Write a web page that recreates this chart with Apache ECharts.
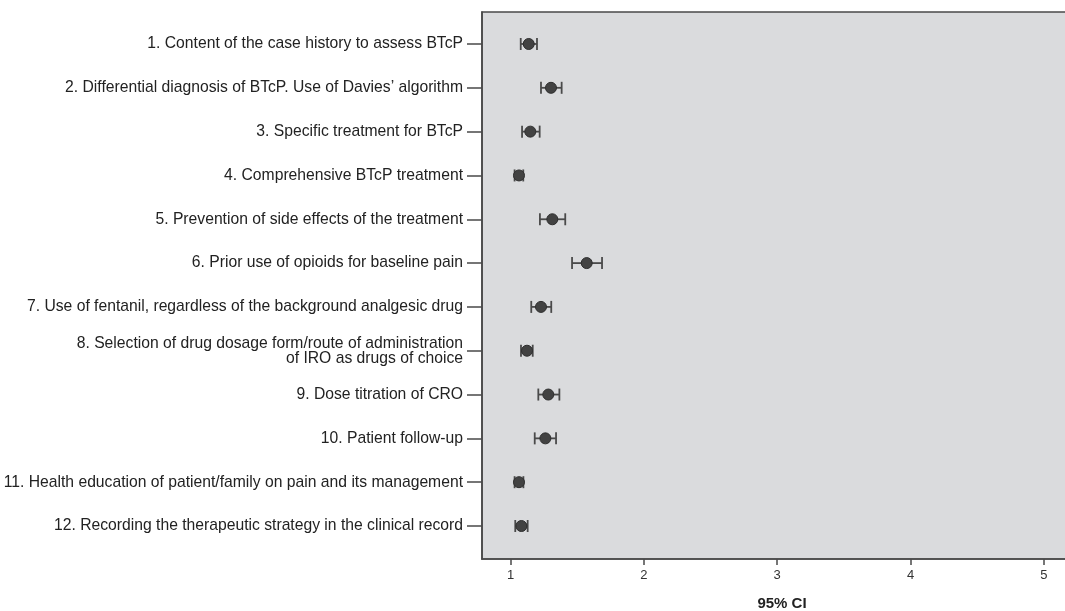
<!DOCTYPE html>
<html>
<head>
<meta charset="utf-8">
<script src="https://cdn.jsdelivr.net/npm/echarts@6/dist/echarts.min.js"></script>
<style>
  html, body { margin: 0; padding: 0; background: #ffffff; }
  #chart { width: 1065px; height: 611px; }
</style>
</head>
<body>
<div id="chart"></div>
<script>
// Quality indicators (rows, top to bottom)
const items = [
  '1. Content of the case history to assess BTcP',
  '2. Differential diagnosis of BTcP. Use of Davies\u2019 algorithm',
  '3. Specific treatment for BTcP',
  '4. Comprehensive BTcP treatment',
  '5. Prevention of side effects of the treatment',
  '6. Prior use of opioids for baseline pain',
  '7. Use of fentanil, regardless of the background analgesic drug',
  '8. Selection of drug dosage form/route of administration\nof IRO as drugs of choice',
  '9. Dose titration of CRO',
  '10. Patient follow-up',
  '11. Health education of patient/family on pain and its management',
  '12. Recording the therapeutic strategy in the clinical record'
];

// Mean score and 95% confidence interval per indicator
const means = [1.136, 1.303, 1.148, 1.063, 1.313, 1.571, 1.228, 1.123, 1.283, 1.261, 1.063, 1.081];
const lower = [1.076, 1.228, 1.086, 1.030, 1.220, 1.461, 1.155, 1.078, 1.208, 1.181, 1.030, 1.035];
const upper = [1.198, 1.383, 1.218, 1.095, 1.410, 1.686, 1.305, 1.166, 1.366, 1.341, 1.096, 1.128];

// X axis tick values
const xTicks = [1, 2, 3, 4, 5];

const rowPos = items.map((_, i) => i + 1);
const pointData = means.map((m, i) => [m, i + 1]);
const ciData = means.map((m, i) => [lower[i], upper[i], i + 1]);

const chart = echarts.init(document.getElementById('chart'), null, { renderer: 'canvas' });

const textFont = '"Liberation Sans", Arial, Helvetica, sans-serif';

chart.setOption({
  animation: false,
  backgroundColor: '#ffffff',
  // plot panel runs past the right edge of the page, so no right border shows
  grid: {
    left: 482,
    top: 12,
    width: 600,
    height: 547,
    outerBoundsMode: 'none',
    containLabel: false,
    show: true,
    backgroundColor: '#dadbdd',
    borderColor: '#4a4a4a',
    borderWidth: 1.6
  },
  xAxis: {
    type: 'value',
    min: 0.7855,
    max: 5.2865,
    name: '95% CI',
    nameLocation: 'middle',
    nameGap: 37,
    nameTextStyle: { fontFamily: textFont, fontSize: 15, fontWeight: 'bold', color: '#222' },
    axisLine: { show: true, lineStyle: { color: '#4a4a4a', width: 1.6 } },
    axisTick: { show: true, customValues: xTicks, length: 6, lineStyle: { color: '#4a4a4a', width: 1.5 } },
    axisLabel: {
      customValues: xTicks,
      fontFamily: textFont,
      fontSize: 13,
      color: '#333',
      margin: 10
    },
    splitLine: { show: false }
  },
  yAxis: {
    type: 'value',
    inverse: true,
    min: 0.27,
    max: 12.753,
    axisLine: { show: true, lineStyle: { color: '#4a4a4a', width: 1.6 } },
    axisTick: { show: true, customValues: rowPos, length: 15, lineStyle: { color: '#4a4a4a', width: 1.5 } },
    axisLabel: {
      customValues: rowPos,
      formatter: v => items[Math.round(v) - 1] || '',
      fontFamily: textFont,
      fontSize: 15.7,
      lineHeight: 15,
      color: '#222',
      margin: 19,
      align: 'right'
    },
    splitLine: { show: false }
  },
  series: [
    {
      type: 'custom',
      data: ciData,
      z: 2,
      renderItem: (params, api) => {
        const y = api.value(2);
        const a = api.coord([api.value(0), y]);
        const b = api.coord([api.value(1), y]);
        const h = 6;
        const st = { stroke: '#4a4a4a', lineWidth: 1.8 };
        return {
          type: 'group',
          children: [
            { type: 'line', shape: { x1: a[0], y1: a[1], x2: b[0], y2: b[1] }, style: st },
            { type: 'line', shape: { x1: a[0], y1: a[1] - h, x2: a[0], y2: a[1] + h }, style: st },
            { type: 'line', shape: { x1: b[0], y1: b[1] - h, x2: b[0], y2: b[1] + h }, style: st }
          ]
        };
      }
    },
    {
      type: 'scatter',
      data: pointData,
      z: 3,
      symbol: 'circle',
      symbolSize: 11,
      itemStyle: { color: '#424242', borderColor: '#2e2e2e', borderWidth: 1, opacity: 1 }
    }
  ]
});
</script>
</body>
</html>
